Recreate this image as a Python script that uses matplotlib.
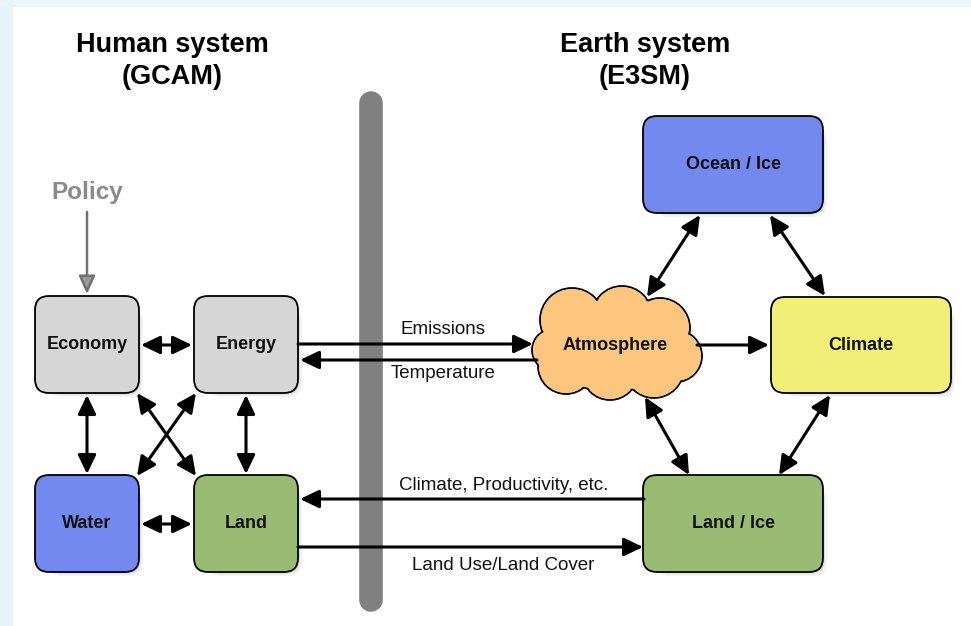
import matplotlib
matplotlib.use("Agg")
import matplotlib.pyplot as plt
from matplotlib.patches import FancyBboxPatch, FancyArrowPatch, Ellipse, Rectangle, ArrowStyle

plt.rcParams['font.family'] = ['Liberation Sans', 'DejaVu Sans']

W, H = 971, 626

# ---- diagram content ----
titles = ["Human system\n(GCAM)", "Earth system\n(E3SM)"]
title_pos = [(172, 61), (645, 61)]

box_names = ["Economy", "Energy", "Water", "Land", "Ocean / Ice", "Climate", "Land / Ice"]
box_x0 = [35, 194, 35, 194, 643, 771, 643]
box_y0 = [296, 296, 475, 475, 116, 297, 475]
box_w = [104, 104, 104, 104, 180, 180, 180]
box_h = [97, 97, 97, 97, 97, 96, 97]
box_colors = ["#d6d6d6", "#d6d6d6", "#7489ef", "#9abb74", "#7489ef", "#f1ef78", "#9abb74"]

cloud_label = "Atmosphere"
cloud_center = (615, 345)
cloud_cx = [572, 622, 660, 676, 654, 610, 566, 553, 615, 600, 640]
cloud_cy = [320, 316, 328, 356, 368, 372, 366, 350, 345, 345, 345]
cloud_rx = [32, 30, 30, 26, 30, 28, 28, 21, 70, 50, 50]
cloud_ry = [32, 30, 30, 26, 30, 28, 28, 21, 38, 45, 45]

# double arrows (x1, y1, x2, y2)
dbl_x1 = [141, 87, 246, 137, 196, 141, 647, 770, 645, 830]
dbl_y1 = [345, 395, 395, 393, 393, 524, 297, 215, 397, 395]
dbl_x2 = [192, 87, 246, 196, 137, 192, 700, 825, 689, 779]
dbl_y2 = [345, 474, 474, 476, 476, 524, 215, 296, 475, 475]

# single arrows (from -> to)
one_x1 = [298, 537, 697, 644, 298]
one_y1 = [344, 360, 345, 499, 547]
one_x2 = [533, 300, 769, 300, 643]
one_y2 = [344, 360, 345, 499, 547]

flow_labels = ["Emissions", "Temperature", "Climate, Productivity, etc.", "Land Use/Land Cover"]
flow_lx = [443, 443, 504, 503]
flow_ly = [330, 374, 485, 565]

policy_label = "Policy"
policy_xy = (87, 192)

fig = plt.figure(figsize=(W / 100, H / 100), dpi=100)
fig.patch.set_facecolor("white")
ax = fig.add_axes([0, 0, 1, 1])
ax.set_xlim(0, W)
ax.set_ylim(H, 0)
ax.axis("off")

# slide background strips
ax.add_patch(Rectangle((0, 0), 13, H, color="#e5f4f8", zorder=0, lw=0))
ax.add_patch(Rectangle((0, 0), W, 7, color="#eaf5f8", zorder=0, lw=0))

# divider bar
ax.plot([371, 371], [103, 600], color="#808080", lw=17, solid_capstyle="round", zorder=1)

# titles
for t, (x, y) in zip(titles, title_pos):
    ax.text(x, y, t, ha="center", va="center", fontsize=19.5, fontweight="bold",
            linespacing=1.32, color="black", zorder=5)

# boxes
for name, x0, y0, w, h, c in zip(box_names, box_x0, box_y0, box_w, box_h, box_colors):
    for k, a in [(6, 0.05), (4, 0.07), (2, 0.09)]:
        ax.add_patch(FancyBboxPatch((x0 + 12, y0 + 12), w - 14 + k, h - 14 + k,
                                    boxstyle="round,pad=0,rounding_size=14",
                                    facecolor="black", edgecolor="none", alpha=a, zorder=2))
    ax.add_patch(FancyBboxPatch((x0 + 7, y0 + 7), w - 14, h - 14,
                                boxstyle="round,pad=7,rounding_size=14",
                                facecolor=c, edgecolor="black", lw=1.3, zorder=3))
    ax.text(x0 + w / 2, y0 + h / 2, name, ha="center", va="center", fontsize=13,
            fontweight="bold", color="#111111", zorder=5)

# cloud
for cx, cy, rx, ry in zip(cloud_cx, cloud_cy, cloud_rx, cloud_ry):
    ax.add_patch(Ellipse((cx, cy), 2 * rx, 2 * ry, facecolor="#fcc67f",
                         edgecolor="black", lw=1.3, zorder=3))
for cx, cy, rx, ry in zip(cloud_cx, cloud_cy, cloud_rx, cloud_ry):
    ax.add_patch(Ellipse((cx, cy), 2 * rx - 2.2, 2 * ry - 2.2, facecolor="#fcc67f",
                         edgecolor="none", zorder=3.5))
ax.text(cloud_center[0], cloud_center[1], cloud_label, ha="center", va="center",
        fontsize=13, fontweight="bold", color="#111111", zorder=5)

# arrows
dstyle = ArrowStyle("<|-|>", head_length=11.5, head_width=5.5)
for x1, y1, x2, y2 in zip(dbl_x1, dbl_y1, dbl_x2, dbl_y2):
    ax.add_patch(FancyArrowPatch((x1, y1), (x2, y2), arrowstyle=dstyle, mutation_scale=1,
                                 color="black", lw=2.2, shrinkA=0, shrinkB=0, zorder=4))
sstyle = ArrowStyle("-|>", head_length=11.5, head_width=5.5)
for x1, y1, x2, y2 in zip(one_x1, one_y1, one_x2, one_y2):
    ax.add_patch(FancyArrowPatch((x1, y1), (x2, y2), arrowstyle=sstyle, mutation_scale=1,
                                 color="black", lw=2.2, shrinkA=0, shrinkB=0, zorder=4))

for t, x, y in zip(flow_labels, flow_lx, flow_ly):
    ax.text(x, y, t, ha="center", va="center", fontsize=13.5, color="#111111", zorder=5)

# policy
ax.text(policy_xy[0], policy_xy[1], policy_label, ha="center", va="center", fontsize=17.5,
        fontweight="bold", color="#8a8a8a", zorder=5)
ax.add_patch(FancyArrowPatch((87, 212), (87, 294), arrowstyle=ArrowStyle("-|>", head_length=11, head_width=5),
                             mutation_scale=1, facecolor="#9a9a9a", edgecolor="#707070",
                             lw=1.8, shrinkA=0, shrinkB=0, zorder=4))

fig.savefig("out.png", dpi=100, facecolor=fig.get_facecolor())
